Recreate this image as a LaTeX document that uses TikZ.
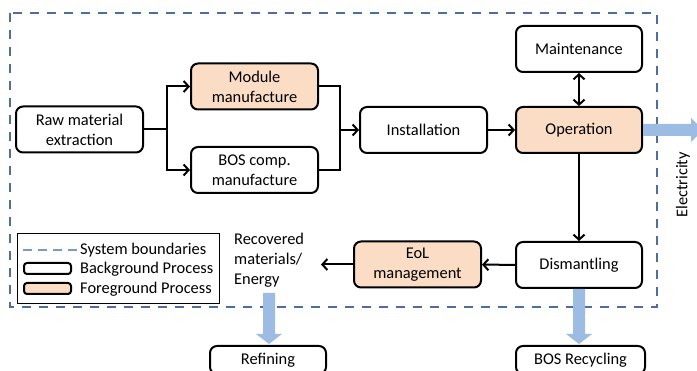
\documentclass[tikz,border=0pt]{standalone}
\usepackage{fontspec}
\setmainfont{Carlito}
\usetikzlibrary{arrows.meta,calc}

\definecolor{peach}{HTML}{FBDCC4}
\definecolor{bound}{HTML}{4F6E9E}
\definecolor{flowblue}{HTML}{9DBCE4}

\tikzset{
  proc/.style={draw, line width=2pt, rounded corners=7pt, fill=white,
    minimum width=127pt, minimum height=46pt, align=center, inner sep=2pt},
  fore/.style={proc, fill=peach},
  flow/.style={draw, line width=2pt, -{Straight Barb[length=5pt,width=11pt]}},
  link/.style={draw, line width=2pt},
  bigflow/.style={fill=flowblue, draw=none},
}

% wide block arrow pointing down from #1 to the top of #2
\newcommand\flowdown[2]{%
  \path[bigflow] ($(#1)+(-6,0)$) -- ($(#1 |- #2)+(-6,-11)$) -- ($(#1 |- #2)+(-13,-11)$)
    -- ($(#1 |- #2)+(0,-1)$) -- ($(#1 |- #2)+(13,-11)$) -- ($(#1 |- #2)+(6,-11)$)
    -- ($(#1)+(6,0)$) -- cycle;}
% wide block arrow pointing right from #1 to #2
\newcommand\flowright[2]{%
  \path[bigflow] ($(#1)+(0,-6)$) -- ($(#1 -| #2)+(-12,-6)$) -- ($(#1 -| #2)+(-12,-12)$)
    -- (#1 -| #2) -- ($(#1 -| #2)+(-12,12)$) -- ($(#1 -| #2)+(-12,6)$)
    -- ($(#1)+(0,6)$) -- cycle;}

\begin{document}
\begin{tikzpicture}[x=1pt, y=-1pt, font=\fontsize{16.4pt}{20pt}\selectfont]
\useasboundingbox (0,0) rectangle (697,371);

% system boundary
\draw[bound, line width=2.2pt, dash pattern=on 9pt off 8pt] (10,13) rectangle (657,307);

% process boxes
\node[proc] (raw)   at (79.5,129.5) {Raw material\\extraction};
\node[fore] (mod)   at (254.5,86.5) {Module\\manufacture};
\node[proc] (bos)   at (254.5,170)  {BOS comp.\\manufacture};
\node[proc] (inst)  at (423.5,130)  {Installation};
\node[fore, minimum width=126pt] (oper)  at (579,130) {Operation};
\node[proc, minimum width=126pt] (maint) at (579,49)  {Maintenance};
\node[proc, minimum width=126pt] (dism)  at (579,265) {Dismantling};
\node[fore] (eol)   at (417.5,264.5) {EoL\\management};
\node[anchor=north west, align=left, inner sep=0pt] (rec) at (234,233)
  {Recovered\\materials/\\Energy};
\node[proc, minimum width=116pt, minimum height=28pt, anchor=north] (ref) at (268,345) {Refining};
\node[proc, minimum width=129pt, minimum height=28pt, anchor=north] (bosrec) at (580.5,345) {BOS Recycling};

% split and merge of the manufacturing branches
\coordinate (split) at (167,129.5);
\coordinate (join) at (340,130);
\coordinate (recend) at (321,264.5);
\draw[link] (raw.east) -- (split);
\draw[flow] (split) |- (mod.west);
\draw[flow] (split) |- (bos.west);
\draw[link] (mod.east) -| (join);
\draw[link] (bos.east) -| (join);
\draw[flow] (join) -- (inst.west);
\draw[flow] (inst) -- (oper);
\draw[line width=2pt, {Straight Barb[length=5pt,width=11pt]}-{Straight Barb[length=5pt,width=11pt]}] (maint) -- (oper);
\draw[flow] (oper) -- (dism);
\draw[flow] (dism) -- (eol);
\draw[flow] (eol.west) -- (recend);

% outgoing flows
\coordinate (elec) at (703,129);
\coordinate (recbot) at (269,293);
\flowright{oper.east}{elec}
\node[rotate=90] (eltext) at (683,185) {Electricity};
\flowdown{dism.south}{bosrec.north}
\flowdown{recbot}{ref.north}

% legend
\node[draw, line width=1pt, minimum width=202pt, minimum height=70pt, anchor=north west] (legend) at (17,233) {};
\coordinate (la) at (23,250);
\coordinate (lb) at (78,250);
\draw[flowblue!55!bound, line width=2.2pt, dash pattern=on 9pt off 6pt] (la) -- (lb);
\node[draw, line width=2pt, rounded corners=3pt, minimum width=47pt, minimum height=11pt, anchor=west] (lbg) at (23,268.5) {};
\node[draw, line width=2pt, rounded corners=3pt, fill=peach, minimum width=47pt, minimum height=11pt, anchor=west] (lfg) at (23,288.5) {};
\node[anchor=west, inner sep=0pt] (t1) at (80,250) {System boundaries};
\node[anchor=west, inner sep=0pt] (t2) at (80,269) {Background Process};
\node[anchor=west, inner sep=0pt] (t3) at (80,289) {Foreground Process};
\end{tikzpicture}
\end{document}
